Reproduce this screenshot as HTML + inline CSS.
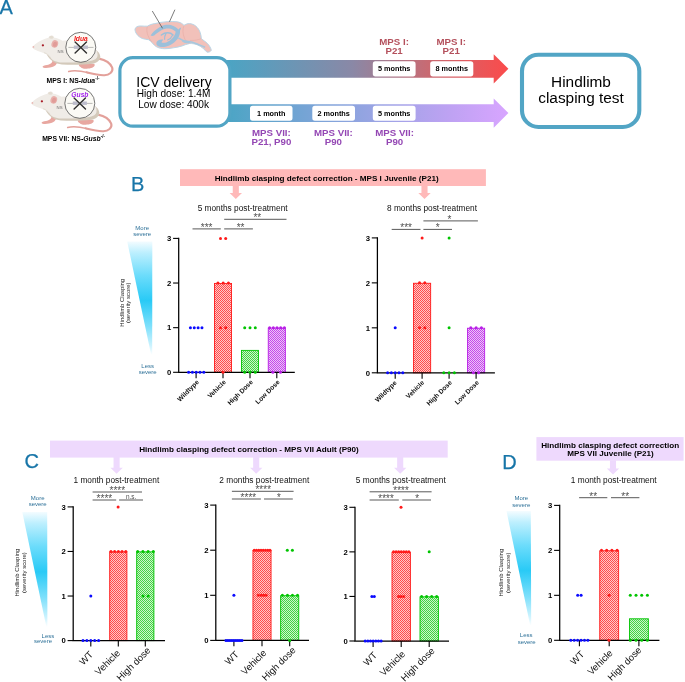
<!DOCTYPE html>
<html lang="en"><head><meta charset="utf-8"><title>Hindlimb clasping figure</title>
<style>html,body{margin:0;padding:0;background:#fff;}svg{display:block;}</style></head><body>
<svg width="685" height="682" viewBox="0 0 685 682" font-family='"Liberation Sans", Arial, Helvetica, sans-serif'>
<rect width="685" height="682" fill="#fff"/>
<defs>
<linearGradient id="gTop" x1="0" x2="1" y1="0" y2="0"><stop offset="0" stop-color="#4aa5c4"/><stop offset="0.12" stop-color="#5b9dbd"/><stop offset="0.45" stop-color="#8a88a6"/><stop offset="0.72" stop-color="#c96a72"/><stop offset="1" stop-color="#fb4b4b"/></linearGradient>
<linearGradient id="gBot" x1="0" x2="1" y1="0" y2="0"><stop offset="0" stop-color="#4aa5c4"/><stop offset="0.15" stop-color="#62a4cd"/><stop offset="0.5" stop-color="#95a4e2"/><stop offset="0.8" stop-color="#bfa2f3"/><stop offset="1" stop-color="#d8a5ff"/></linearGradient>
<linearGradient id="gSev" x1="0" x2="0" y1="0" y2="1"><stop offset="0" stop-color="#f4fcff"/><stop offset="0.1" stop-color="#bceffe"/><stop offset="0.3" stop-color="#6cdcfb"/><stop offset="0.52" stop-color="#29caf6"/><stop offset="0.75" stop-color="#7fe0fb"/><stop offset="0.92" stop-color="#cdf3fe"/><stop offset="1" stop-color="#ffffff"/></linearGradient>
<pattern id="ptr" width="2" height="2" patternUnits="userSpaceOnUse"><rect width="2" height="2" fill="#ffc8c8"/><rect width="1" height="1" fill="#ff4c4c"/><rect x="1" y="1" width="1" height="1" fill="#ff4c4c"/></pattern>
<pattern id="ptg" width="2" height="2" patternUnits="userSpaceOnUse"><rect width="2" height="2" fill="#ccf4cc"/><rect width="1" height="1" fill="#44d444"/><rect x="1" y="1" width="1" height="1" fill="#44d444"/></pattern>
<pattern id="ptp" width="2" height="2" patternUnits="userSpaceOnUse"><rect width="2" height="2" fill="#ecc4f8"/><rect width="1" height="1" fill="#c548ea"/><rect x="1" y="1" width="1" height="1" fill="#c548ea"/></pattern>
</defs>
<text x="-0.60" y="14.20" font-size="20" text-anchor="start" font-weight="normal" fill="#1775a8"  stroke="#1775a8" stroke-width="0.25">A</text>
<g transform="translate(0,0)">
<path d="M99.0 58.6 C104 59.6 110 62.5 112.2 67.6 C113.6 72 109 75 104.5 75.2 C98 75.5 92 73.7 86.5 72.3" fill="none" stroke="#e3a09a" stroke-width="2.1" stroke-linecap="round"/>
<path d="M88 72.7 C81 70.9 74.5 69.9 68.6 71.5" fill="none" stroke="#e3a09a" stroke-width="1.35" stroke-linecap="round"/>
<path d="M79 64.2 C83 63.2 91 62.8 94.6 64.2 C95.4 66.4 92.5 68.2 88 68.6 C84.5 69.2 81.5 68.4 80.6 67 C79.4 66.4 78.4 65.2 79 64.2 Z" fill="#e8a7a0"/>
<path d="M52.6 59.5 C52.8 62.5 50.5 64.4 47 65 C44.5 65.3 42.4 66 42.6 67 C43.2 68.2 47 68.2 50 67.6 C53 67.2 55.5 66 56.6 63.8 C57.4 62.4 57.2 61 56.8 60 Z" fill="#e8a7a0"/>
<path d="M47 55 C50 60 54.5 63.8 62 64.4 C72 65.2 84 64.8 92 63.8 C97.5 63 100.6 59.8 100.2 56.2 C99.6 52.2 96 49.4 93 48.2 L60 52 Z" fill="#d3c9ba"/>
<path d="M32.8 46.8 C35 43.2 41.5 40 48.4 37.8 C49.2 36 50.4 35.4 52.2 35.6 C53.6 35.8 54 36.8 53.8 37.6 C57 38 60 39.4 62.6 40.8 C72 39.2 84 39.6 91 44.6 C96 48 98.4 52.6 97.4 56.6 C96.4 60.4 90 61.6 82 62 C74 62.4 66 62.8 60 62.4 C54.6 62 51 59.4 48.4 55.6 C44.5 53 38.5 51.6 34.6 49.6 C33 48.8 32.4 47.8 32.8 46.8 Z" fill="#f0ece7"/>
<path d="M44 52.6 C47 53.6 49.4 55.4 51 58.4" fill="none" stroke="#ddd5ca" stroke-width="0.7"/>
<ellipse cx="51.3" cy="37.3" rx="2.1" ry="1.5" fill="#e4ddd2"/>
<ellipse cx="54.8" cy="43.9" rx="3.3" ry="3.9" fill="#e8b0ab" transform="rotate(18 54.8 43.9)"/>
<ellipse cx="55.1" cy="44.2" rx="2.0" ry="2.6" fill="#e19c98" transform="rotate(18 54.8 43.9)"/>
<circle cx="42.9" cy="45.3" r="1.15" fill="#a81c28"/>
<circle cx="33.4" cy="46.9" r="0.9" fill="#e9b6b1"/>
<text x="60.60" y="52.60" font-size="4.3" text-anchor="middle" font-weight="normal" fill="#6f6f6f"  >NS</text>
<circle cx="80.8" cy="47.3" r="15.0" fill="#fbfaf5" stroke="#4a4a4a" stroke-width="0.75"/>
<line x1="68.4" y1="47.4" x2="93.5" y2="47.4" stroke="#8c8c8c" stroke-width="0.6"/>
<rect x="73.8" y="45.5" width="4.9" height="3.4" fill="#bcbccb"/>
<rect x="83.2" y="45.5" width="4.7" height="3.4" fill="#bcbccb"/>
<path d="M75.1 42.1 L86.5 53.0 M86.5 42.1 L75.1 53.0" stroke="#2e2e2e" stroke-width="1.4" stroke-linecap="round" fill="none"/>
<text x="80.90" y="41.10" font-size="6.7" text-anchor="middle" font-weight="bold" fill="#f01616" font-style="italic" >Idua</text>
</g>
<g transform="translate(-1.0,56)">
<path d="M99.0 58.6 C104 59.6 110 62.5 112.2 67.6 C113.6 72 109 75 104.5 75.2 C98 75.5 92 73.7 86.5 72.3" fill="none" stroke="#e3a09a" stroke-width="2.1" stroke-linecap="round"/>
<path d="M88 72.7 C81 70.9 74.5 69.9 68.6 71.5" fill="none" stroke="#e3a09a" stroke-width="1.35" stroke-linecap="round"/>
<path d="M79 64.2 C83 63.2 91 62.8 94.6 64.2 C95.4 66.4 92.5 68.2 88 68.6 C84.5 69.2 81.5 68.4 80.6 67 C79.4 66.4 78.4 65.2 79 64.2 Z" fill="#e8a7a0"/>
<path d="M52.6 59.5 C52.8 62.5 50.5 64.4 47 65 C44.5 65.3 42.4 66 42.6 67 C43.2 68.2 47 68.2 50 67.6 C53 67.2 55.5 66 56.6 63.8 C57.4 62.4 57.2 61 56.8 60 Z" fill="#e8a7a0"/>
<path d="M47 55 C50 60 54.5 63.8 62 64.4 C72 65.2 84 64.8 92 63.8 C97.5 63 100.6 59.8 100.2 56.2 C99.6 52.2 96 49.4 93 48.2 L60 52 Z" fill="#d3c9ba"/>
<path d="M32.8 46.8 C35 43.2 41.5 40 48.4 37.8 C49.2 36 50.4 35.4 52.2 35.6 C53.6 35.8 54 36.8 53.8 37.6 C57 38 60 39.4 62.6 40.8 C72 39.2 84 39.6 91 44.6 C96 48 98.4 52.6 97.4 56.6 C96.4 60.4 90 61.6 82 62 C74 62.4 66 62.8 60 62.4 C54.6 62 51 59.4 48.4 55.6 C44.5 53 38.5 51.6 34.6 49.6 C33 48.8 32.4 47.8 32.8 46.8 Z" fill="#f0ece7"/>
<path d="M44 52.6 C47 53.6 49.4 55.4 51 58.4" fill="none" stroke="#ddd5ca" stroke-width="0.7"/>
<ellipse cx="51.3" cy="37.3" rx="2.1" ry="1.5" fill="#e4ddd2"/>
<ellipse cx="54.8" cy="43.9" rx="3.3" ry="3.9" fill="#e8b0ab" transform="rotate(18 54.8 43.9)"/>
<ellipse cx="55.1" cy="44.2" rx="2.0" ry="2.6" fill="#e19c98" transform="rotate(18 54.8 43.9)"/>
<circle cx="42.9" cy="45.3" r="1.15" fill="#a81c28"/>
<circle cx="33.4" cy="46.9" r="0.9" fill="#e9b6b1"/>
<text x="60.60" y="52.60" font-size="4.3" text-anchor="middle" font-weight="normal" fill="#6f6f6f"  >NS</text>
<circle cx="80.8" cy="47.3" r="15.0" fill="#fbfaf5" stroke="#4a4a4a" stroke-width="0.75"/>
<line x1="68.4" y1="47.4" x2="93.5" y2="47.4" stroke="#8c8c8c" stroke-width="0.6"/>
<rect x="73.8" y="45.5" width="4.9" height="3.4" fill="#bcbccb"/>
<rect x="83.2" y="45.5" width="4.7" height="3.4" fill="#bcbccb"/>
<path d="M75.1 42.1 L86.5 53.0 M86.5 42.1 L75.1 53.0" stroke="#2e2e2e" stroke-width="1.4" stroke-linecap="round" fill="none"/>
<text x="80.90" y="41.10" font-size="6.7" text-anchor="middle" font-weight="bold" fill="#a424ee" font-style="italic" >Gusb</text>
</g>
<text x="73.0" y="83.2" font-size="6.85" text-anchor="middle" font-weight="bold">MPS I: NS-<tspan font-style="italic">Idua</tspan><tspan font-size="4.6" dy="-2.9">-/-</tspan></text>
<text x="73.6" y="140.6" font-size="6.85" text-anchor="middle" font-weight="bold">MPS VII: NS-<tspan font-style="italic">Gusb</tspan><tspan font-size="4.6" dy="-2.9">-/-</tspan></text>
<g>
<path d="M135 29.2 C135.4 27 138 25.8 141.2 26 C143.4 26 145.6 26.4 147.4 26.2 C149.6 24.8 152 24 154.8 23.6 C158.8 22.6 163 22 167.2 21.7 C170.6 21.4 174 21.4 177.1 21.8 C179.4 22.2 181.2 23 182.2 23.8 C183 24.4 183.6 25 184 25.4 C185.6 24.2 187.6 23.6 189.6 23.6 C192 23.8 194.2 24.8 195.8 26.1 C198 28 199.4 30.2 200.1 32.3 C200.9 34.4 201.2 36.6 201.3 38.5 C202.2 39.5 203.4 40.2 204.4 41 C206.4 42.4 208.2 44 209.4 45.9 C210.4 47.4 211 48.8 211.3 50.3 C210.4 51.8 208.6 52.4 206.9 52.1 C205.6 50.8 204.4 49.4 203.2 48.4 C201.4 46.8 199.2 45.6 197 44.7 C194.6 43.8 192 43.4 189.6 43.5 C187 44 184.4 45 182.1 45.9 C179.4 46.8 176.4 47.4 173.4 47.8 C170.6 48.4 167.6 48.8 164.7 48.7 C162 48.6 159.4 48.2 157.3 47.2 C155.2 46.2 153.4 44.6 152.3 42.8 C151 41.4 149.8 40.4 148.6 39.7 C146.6 39.4 144.4 39.2 142.4 38.5 C140.2 37.6 138.2 36.2 136.8 34.2 C135.6 32.6 135 30.8 135 29.2 Z" fill="#f2c1ba" stroke="#b9d6e7" stroke-width="1.0" stroke-linejoin="round"/>
<path d="M147.4 26.4 C146 30 147 36 152 42.4" fill="none" stroke="#e5a8a2" stroke-width="0.55"/>
<path d="M184 25.6 C182.4 29 182.6 34 184.6 38.6 C185.8 41 187.6 42.8 189.6 43.4" fill="none" stroke="#e5a8a2" stroke-width="0.55"/>
<path d="M201.2 38.6 C198 40 194 40.6 190 40.4" fill="none" stroke="#e5a8a2" stroke-width="0.5"/>
<path d="M150.6 35.6 C152.4 32.8 154.6 30.6 157 29 C159.4 27.2 161.6 25.8 164 25.2 C166.4 24.6 169 24.6 171.4 25.2 C174.2 26 176.8 27.6 178.6 29.4 C179.4 28.4 180.2 27.8 181.2 27.6 C180.8 28.8 180.4 29.8 180 30.8 C180.2 33 179.6 35.2 178.4 37.4 C177 39.8 175 41.8 172.8 43.4 C170.2 45.2 167.2 46.6 164 47 C161.4 47.4 158.8 46.8 157.2 45.4 C155.8 43.8 156.2 41.6 158 40.4 C159.6 39.4 161.6 39.2 163.2 39.6 C162.6 40.6 162 41.4 161.4 42.2 C162.6 43 164.4 43 166.2 42.4 C168.8 41.6 171.2 39.8 173 37.6 C174.6 35.6 175.6 33.4 175.6 31.6 C173.8 30 171.4 28.8 169 28.6 C166.4 28.4 163.8 29 161.4 30.2 C158.8 31.6 156.4 33.6 154.2 35.4 C153 36 151.6 36 150.6 35.6 Z" fill="#9cc0da"/>
<path d="M161.4 35 C163.2 33.6 165.4 32.8 167.6 32.8 C169.8 32.8 171.8 33.6 173 35" fill="none" stroke="#9cc0da" stroke-width="1.5" stroke-linecap="round"/>
<path d="M166 33.4 C165 35.2 164.4 37.2 164.6 39.2" fill="none" stroke="#9cc0da" stroke-width="1.2" stroke-linecap="round"/>
<path d="M172.4 35.4 C171.6 37.6 169.8 39.2 167.6 40" fill="none" stroke="#9cc0da" stroke-width="1.2" stroke-linecap="round"/>
<path d="M178.6 38.2 C181.6 40.4 185 41.2 188.3 41.6 C191 42 193.6 42.6 195.8 43.5 C199 44.8 202 45.8 204.6 47" fill="none" stroke="#a6c7de" stroke-width="1.5" stroke-linecap="round"/>
<path d="M183 41 C185 42.4 187.6 42.6 189.6 41.9" fill="none" stroke="#a6c7de" stroke-width="2.0" stroke-linecap="round"/>
<line x1="152.3" y1="11" x2="162.5" y2="28.3" stroke="#4f4f4f" stroke-width="0.75"/>
<line x1="174.9" y1="9.7" x2="169.5" y2="21.7" stroke="#4f4f4f" stroke-width="0.75"/>
</g>
<path d="M225 60 H493.7 V54.2 L508.4 68.8 L493.7 83.4 V77.7 H225 Z" fill="url(#gTop)"/>
<path d="M225 104.2 H493.7 V98.5 L508.4 113.1 L493.7 127.7 V122 H225 Z" fill="url(#gBot)"/>
<rect x="119.9" y="57.7" width="110.0" height="68.4" rx="13" fill="#fff" stroke="#52a5c5" stroke-width="3.2"/>
<text x="174.00" y="86.90" font-size="14" text-anchor="middle" font-weight="normal" fill="#000"  >ICV delivery</text>
<text x="173.60" y="97.00" font-size="10.1" text-anchor="middle" font-weight="normal" fill="#000"  >High dose: 1.4M</text>
<text x="173.60" y="107.70" font-size="10.1" text-anchor="middle" font-weight="normal" fill="#000"  >Low dose: 400k</text>
<rect x="522" y="54.8" width="117.3" height="72.2" rx="16.5" fill="#fff" stroke="#52a5c5" stroke-width="4.1"/>
<text x="581.00" y="86.80" font-size="15.4" text-anchor="middle" font-weight="normal" fill="#000"  >Hindlimb</text>
<text x="581.00" y="103.10" font-size="15.4" text-anchor="middle" font-weight="normal" fill="#000"  >clasping test</text>
<rect x="372.8" y="61.3" width="42.80" height="15.10" rx="2.6" fill="#fff"/>
<text x="394.20" y="71.40" font-size="7.3" text-anchor="middle" font-weight="bold" fill="#000"  >5 months</text>
<rect x="430.2" y="61.3" width="43.10" height="15.10" rx="2.6" fill="#fff"/>
<text x="451.75" y="71.40" font-size="7.3" text-anchor="middle" font-weight="bold" fill="#000"  >8 months</text>
<rect x="250.0" y="105.8" width="42.50" height="14.90" rx="2.6" fill="#fff"/>
<text x="271.25" y="115.80" font-size="7.3" text-anchor="middle" font-weight="bold" fill="#000"  >1 month</text>
<rect x="312.3" y="105.8" width="42.70" height="14.90" rx="2.6" fill="#fff"/>
<text x="333.65" y="115.80" font-size="7.3" text-anchor="middle" font-weight="bold" fill="#000"  >2 months</text>
<rect x="372.8" y="105.8" width="42.80" height="14.90" rx="2.6" fill="#fff"/>
<text x="394.20" y="115.80" font-size="7.3" text-anchor="middle" font-weight="bold" fill="#000"  >5 months</text>
<text x="394.10" y="44.90" font-size="9.7" text-anchor="middle" font-weight="bold" fill="#b4505c"  >MPS I:</text>
<text x="394.10" y="54.20" font-size="9.7" text-anchor="middle" font-weight="bold" fill="#b4505c"  >P21</text>
<text x="451.20" y="44.90" font-size="9.7" text-anchor="middle" font-weight="bold" fill="#b4505c"  >MPS I:</text>
<text x="451.20" y="54.20" font-size="9.7" text-anchor="middle" font-weight="bold" fill="#b4505c"  >P21</text>
<text x="271.40" y="135.90" font-size="9.7" text-anchor="middle" font-weight="bold" fill="#9447b4"  >MPS VII:</text>
<text x="271.40" y="145.20" font-size="9.7" text-anchor="middle" font-weight="bold" fill="#9447b4"  >P21, P90</text>
<text x="333.40" y="135.90" font-size="9.7" text-anchor="middle" font-weight="bold" fill="#9447b4"  >MPS VII:</text>
<text x="333.40" y="145.20" font-size="9.7" text-anchor="middle" font-weight="bold" fill="#9447b4"  >P90</text>
<text x="394.60" y="135.90" font-size="9.7" text-anchor="middle" font-weight="bold" fill="#9447b4"  >MPS VII:</text>
<text x="394.60" y="145.20" font-size="9.7" text-anchor="middle" font-weight="bold" fill="#9447b4"  >P90</text>
<text x="131.00" y="190.90" font-size="20" text-anchor="start" font-weight="normal" fill="#1775a8"  stroke="#1775a8" stroke-width="0.25">B</text>
<rect x="180.0" y="169.2" width="305.90" height="16.80" fill="#ffb9b9"/>
<path d="M232.75 185.5 V193.00 H229.60 L235.80 199.0 L242.00 193.00 H238.85 V185.5 Z" fill="#ffb9b9"/>
<path d="M421.45 185.5 V193.00 H418.30 L424.50 199.0 L430.70 193.00 H427.55 V185.5 Z" fill="#ffb9b9"/>
<text x="326.70" y="180.70" font-size="8.12" text-anchor="middle" font-weight="bold" fill="#000"  >Hindlimb clasping defect correction - MPS I Juvenile (P21)</text>
<path d="M127.2 241.4 H152.3 L152.2 355.0 L151.2 355.0 Z" fill="url(#gSev)"/>
<text x="142.20" y="230.30" font-size="6.0" text-anchor="middle" font-weight="normal" fill="#2f7299"  >More</text>
<text x="142.20" y="236.10" font-size="6.0" text-anchor="middle" font-weight="normal" fill="#2f7299"  >severe</text>
<text x="147.70" y="368.00" font-size="6.0" text-anchor="middle" font-weight="normal" fill="#2f7299"  >Less</text>
<text x="147.70" y="373.90" font-size="6.0" text-anchor="middle" font-weight="normal" fill="#2f7299"  >severe</text>
<text transform="translate(123.80,302.8) rotate(-90)" font-size="5.95" text-anchor="middle" fill="#222">Hindlimb Clasping</text>
<text transform="translate(129.80,302.8) rotate(-90)" font-size="5.95" text-anchor="middle" fill="#222">(severity score)</text>
<rect x="214.45" y="283.43" width="17.10" height="88.87" fill="url(#ptr)" stroke="#ff1a1a" stroke-width="0.9"/>
<rect x="241.45" y="350.38" width="17.10" height="21.92" fill="url(#ptg)" stroke="#00c400" stroke-width="0.9"/>
<rect x="268.25" y="328.07" width="17.10" height="44.23" fill="url(#ptp)" stroke="#b81ee6" stroke-width="0.9"/>
<path d="M178.70 237.80 V372.30 H294.80" fill="none" stroke="#000" stroke-width="1.25" stroke-linejoin="miter"/>
<line x1="173.10" y1="372.30" x2="178.70" y2="372.30" stroke="#000" stroke-width="1.1"/>
<text x="171.40" y="375.05" font-size="7.7" text-anchor="end" font-weight="bold" fill="#000"  >0</text>
<line x1="173.10" y1="327.67" x2="178.70" y2="327.67" stroke="#000" stroke-width="1.1"/>
<text x="171.40" y="330.42" font-size="7.7" text-anchor="end" font-weight="bold" fill="#000"  >1</text>
<line x1="173.10" y1="283.03" x2="178.70" y2="283.03" stroke="#000" stroke-width="1.1"/>
<text x="171.40" y="285.78" font-size="7.7" text-anchor="end" font-weight="bold" fill="#000"  >2</text>
<line x1="173.10" y1="238.40" x2="178.70" y2="238.40" stroke="#000" stroke-width="1.1"/>
<text x="171.40" y="241.15" font-size="7.7" text-anchor="end" font-weight="bold" fill="#000"  >3</text>
<line x1="196.10" y1="372.30" x2="196.10" y2="378.20" stroke="#000" stroke-width="1.1"/>
<text transform="translate(199.40,382.50) rotate(-45)" font-size="6.6" font-weight="bold" text-anchor="end" fill="#111">Wildtype</text>
<line x1="223.00" y1="372.30" x2="223.00" y2="378.20" stroke="#000" stroke-width="1.1"/>
<text transform="translate(226.30,382.50) rotate(-45)" font-size="6.6" font-weight="bold" text-anchor="end" fill="#111">Vehicle</text>
<line x1="250.00" y1="372.30" x2="250.00" y2="378.20" stroke="#000" stroke-width="1.1"/>
<text transform="translate(253.30,382.50) rotate(-45)" font-size="6.6" font-weight="bold" text-anchor="end" fill="#111">High Dose</text>
<line x1="276.80" y1="372.30" x2="276.80" y2="378.20" stroke="#000" stroke-width="1.1"/>
<text transform="translate(280.10,382.50) rotate(-45)" font-size="6.6" font-weight="bold" text-anchor="end" fill="#111">Low Dose</text>
<circle cx="190.42" cy="327.67" r="1.5" fill="#0a0aff"/>
<circle cx="194.27" cy="327.67" r="1.5" fill="#0a0aff"/>
<circle cx="198.12" cy="327.67" r="1.5" fill="#0a0aff"/>
<circle cx="201.97" cy="327.67" r="1.5" fill="#0a0aff"/>
<circle cx="188.60" cy="372.30" r="1.5" fill="#0a0aff"/>
<circle cx="192.40" cy="372.30" r="1.5" fill="#0a0aff"/>
<circle cx="196.20" cy="372.30" r="1.5" fill="#0a0aff"/>
<circle cx="200.00" cy="372.30" r="1.5" fill="#0a0aff"/>
<circle cx="203.80" cy="372.30" r="1.5" fill="#0a0aff"/>
<circle cx="220.50" cy="238.40" r="1.5" fill="#ff1a1a"/>
<circle cx="225.70" cy="238.40" r="1.5" fill="#ff1a1a"/>
<circle cx="217.95" cy="283.03" r="1.5" fill="#ff1a1a"/>
<circle cx="223.20" cy="283.03" r="1.5" fill="#ff1a1a"/>
<circle cx="228.45" cy="283.03" r="1.5" fill="#ff1a1a"/>
<circle cx="220.50" cy="327.67" r="1.5" fill="#ff1a1a"/>
<circle cx="225.70" cy="327.67" r="1.5" fill="#ff1a1a"/>
<circle cx="223.00" cy="372.30" r="1.5" fill="#ff1a1a"/>
<circle cx="244.70" cy="327.67" r="1.5" fill="#00c400"/>
<circle cx="250.00" cy="327.67" r="1.5" fill="#00c400"/>
<circle cx="255.30" cy="327.67" r="1.5" fill="#00c400"/>
<circle cx="244.70" cy="372.30" r="1.5" fill="#00c400"/>
<circle cx="250.00" cy="372.30" r="1.5" fill="#00c400"/>
<circle cx="255.30" cy="372.30" r="1.5" fill="#00c400"/>
<circle cx="269.60" cy="327.67" r="1.5" fill="#b81ee6"/>
<circle cx="273.30" cy="327.67" r="1.5" fill="#b81ee6"/>
<circle cx="277.00" cy="327.67" r="1.5" fill="#b81ee6"/>
<circle cx="280.70" cy="327.67" r="1.5" fill="#b81ee6"/>
<circle cx="284.40" cy="327.67" r="1.5" fill="#b81ee6"/>
<circle cx="272.90" cy="372.30" r="1.5" fill="#b81ee6"/>
<circle cx="280.50" cy="372.30" r="1.5" fill="#b81ee6"/>
<text x="242.60" y="210.60" font-size="8.3" text-anchor="middle" font-weight="normal" fill="#111"  >5 months post-treatment</text>
<line x1="192.50" y1="228.90" x2="220.80" y2="228.90" stroke="#505050" stroke-width="0.95"/>
<text x="206.65" y="230.80" font-size="10.0" text-anchor="middle" font-weight="normal" fill="#505050"  >***</text>
<line x1="224.20" y1="228.90" x2="252.90" y2="228.90" stroke="#505050" stroke-width="0.95"/>
<text x="240.55" y="230.80" font-size="10.0" text-anchor="middle" font-weight="normal" fill="#505050"  >**</text>
<line x1="224.20" y1="219.30" x2="286.50" y2="219.30" stroke="#505050" stroke-width="0.95"/>
<text x="257.35" y="221.20" font-size="10.0" text-anchor="middle" font-weight="normal" fill="#505050"  >**</text>
<rect x="413.55" y="283.27" width="17.10" height="89.53" fill="url(#ptr)" stroke="#ff1a1a" stroke-width="0.9"/>
<rect x="467.55" y="328.23" width="17.10" height="44.57" fill="url(#ptp)" stroke="#b81ee6" stroke-width="0.9"/>
<path d="M377.40 237.30 V372.80 H494.90" fill="none" stroke="#000" stroke-width="1.25" stroke-linejoin="miter"/>
<line x1="371.80" y1="372.80" x2="377.40" y2="372.80" stroke="#000" stroke-width="1.1"/>
<text x="370.10" y="375.55" font-size="7.7" text-anchor="end" font-weight="bold" fill="#000"  >0</text>
<line x1="371.80" y1="327.83" x2="377.40" y2="327.83" stroke="#000" stroke-width="1.1"/>
<text x="370.10" y="330.58" font-size="7.7" text-anchor="end" font-weight="bold" fill="#000"  >1</text>
<line x1="371.80" y1="282.87" x2="377.40" y2="282.87" stroke="#000" stroke-width="1.1"/>
<text x="370.10" y="285.62" font-size="7.7" text-anchor="end" font-weight="bold" fill="#000"  >2</text>
<line x1="371.80" y1="237.90" x2="377.40" y2="237.90" stroke="#000" stroke-width="1.1"/>
<text x="370.10" y="240.65" font-size="7.7" text-anchor="end" font-weight="bold" fill="#000"  >3</text>
<line x1="395.20" y1="372.80" x2="395.20" y2="378.70" stroke="#000" stroke-width="1.1"/>
<text transform="translate(397.10,383.20) rotate(-45)" font-size="6.6" font-weight="bold" text-anchor="end" fill="#111">Wildtype</text>
<line x1="422.10" y1="372.80" x2="422.10" y2="378.70" stroke="#000" stroke-width="1.1"/>
<text transform="translate(424.60,383.00) rotate(-45)" font-size="6.6" font-weight="bold" text-anchor="end" fill="#111">Vehicle</text>
<line x1="449.10" y1="372.80" x2="449.10" y2="378.70" stroke="#000" stroke-width="1.1"/>
<text transform="translate(452.40,383.00) rotate(-45)" font-size="6.6" font-weight="bold" text-anchor="end" fill="#111">High Dose</text>
<line x1="476.10" y1="372.80" x2="476.10" y2="378.70" stroke="#000" stroke-width="1.1"/>
<text transform="translate(479.40,383.00) rotate(-45)" font-size="6.6" font-weight="bold" text-anchor="end" fill="#111">Low Dose</text>
<circle cx="395.20" cy="327.83" r="1.5" fill="#0a0aff"/>
<circle cx="387.60" cy="372.80" r="1.5" fill="#0a0aff"/>
<circle cx="391.40" cy="372.80" r="1.5" fill="#0a0aff"/>
<circle cx="395.20" cy="372.80" r="1.5" fill="#0a0aff"/>
<circle cx="399.00" cy="372.80" r="1.5" fill="#0a0aff"/>
<circle cx="402.80" cy="372.80" r="1.5" fill="#0a0aff"/>
<circle cx="422.10" cy="237.90" r="1.5" fill="#ff1a1a"/>
<circle cx="419.50" cy="282.87" r="1.5" fill="#ff1a1a"/>
<circle cx="424.80" cy="282.87" r="1.5" fill="#ff1a1a"/>
<circle cx="419.50" cy="327.83" r="1.5" fill="#ff1a1a"/>
<circle cx="424.80" cy="327.83" r="1.5" fill="#ff1a1a"/>
<circle cx="449.10" cy="237.90" r="1.5" fill="#00c400"/>
<circle cx="449.10" cy="327.83" r="1.5" fill="#00c400"/>
<circle cx="443.80" cy="372.80" r="1.5" fill="#00c400"/>
<circle cx="449.10" cy="372.80" r="1.5" fill="#00c400"/>
<circle cx="454.40" cy="372.80" r="1.5" fill="#00c400"/>
<circle cx="470.80" cy="327.83" r="1.5" fill="#b81ee6"/>
<circle cx="476.10" cy="327.83" r="1.5" fill="#b81ee6"/>
<circle cx="481.40" cy="327.83" r="1.5" fill="#b81ee6"/>
<circle cx="473.40" cy="372.80" r="1.5" fill="#b81ee6"/>
<circle cx="478.70" cy="372.80" r="1.5" fill="#b81ee6"/>
<text x="432.00" y="210.70" font-size="8.3" text-anchor="middle" font-weight="normal" fill="#111"  >8 months post-treatment</text>
<line x1="391.70" y1="229.40" x2="420.50" y2="229.40" stroke="#505050" stroke-width="0.95"/>
<text x="406.10" y="231.30" font-size="10.0" text-anchor="middle" font-weight="normal" fill="#505050"  >***</text>
<line x1="423.40" y1="229.40" x2="452.00" y2="229.40" stroke="#505050" stroke-width="0.95"/>
<text x="437.70" y="231.30" font-size="10.0" text-anchor="middle" font-weight="normal" fill="#505050"  >*</text>
<line x1="423.40" y1="220.90" x2="477.90" y2="220.90" stroke="#505050" stroke-width="0.95"/>
<text x="449.35" y="222.80" font-size="10.0" text-anchor="middle" font-weight="normal" fill="#505050"  >*</text>
<text x="24.40" y="468.20" font-size="20" text-anchor="start" font-weight="normal" fill="#1775a8"  stroke="#1775a8" stroke-width="0.25">C</text>
<rect x="50.0" y="440.6" width="397.70" height="17.00" fill="#eed9fd"/>
<path d="M113.55 457.1 V467.80 H110.40 L116.60 473.8 L122.80 467.80 H119.65 V457.1 Z" fill="#eed9fd"/>
<path d="M253.15 457.1 V467.80 H250.00 L256.20 473.8 L262.40 467.80 H259.25 V457.1 Z" fill="#eed9fd"/>
<path d="M397.15 457.1 V467.80 H394.00 L400.20 473.8 L406.40 467.80 H403.25 V457.1 Z" fill="#eed9fd"/>
<text x="249.00" y="451.60" font-size="8.12" text-anchor="middle" font-weight="bold" fill="#000"  >Hindlimb clasping defect correction - MPS VII Adult (P90)</text>
<path d="M22.3 511.9 H47.2 L47.4 627.0 L46.4 627.0 Z" fill="url(#gSev)"/>
<text x="37.70" y="500.20" font-size="6.0" text-anchor="middle" font-weight="normal" fill="#2f7299"  >More</text>
<text x="37.70" y="506.20" font-size="6.0" text-anchor="middle" font-weight="normal" fill="#2f7299"  >severe</text>
<text x="47.90" y="637.50" font-size="6.0" text-anchor="middle" font-weight="normal" fill="#2f7299"  >Less</text>
<text x="43.00" y="643.30" font-size="6.0" text-anchor="middle" font-weight="normal" fill="#2f7299"  >severe</text>
<text transform="translate(19.40,572.6) rotate(-90)" font-size="5.95" text-anchor="middle" fill="#222">Hindlimb Clasping</text>
<text transform="translate(26.00,572.6) rotate(-90)" font-size="5.95" text-anchor="middle" fill="#222">(severity score)</text>
<rect x="109.70" y="551.87" width="17.20" height="88.73" fill="url(#ptr)" stroke="#ff1a1a" stroke-width="0.9"/>
<rect x="136.70" y="551.87" width="17.20" height="88.73" fill="url(#ptg)" stroke="#00c400" stroke-width="0.9"/>
<path d="M73.20 506.30 V640.60 H165.00" fill="none" stroke="#000" stroke-width="1.25" stroke-linejoin="miter"/>
<line x1="67.60" y1="640.60" x2="73.20" y2="640.60" stroke="#000" stroke-width="1.1"/>
<text x="65.90" y="643.35" font-size="7.7" text-anchor="end" font-weight="bold" fill="#000"  >0</text>
<line x1="67.60" y1="596.03" x2="73.20" y2="596.03" stroke="#000" stroke-width="1.1"/>
<text x="65.90" y="598.78" font-size="7.7" text-anchor="end" font-weight="bold" fill="#000"  >1</text>
<line x1="67.60" y1="551.47" x2="73.20" y2="551.47" stroke="#000" stroke-width="1.1"/>
<text x="65.90" y="554.22" font-size="7.7" text-anchor="end" font-weight="bold" fill="#000"  >2</text>
<line x1="67.60" y1="506.90" x2="73.20" y2="506.90" stroke="#000" stroke-width="1.1"/>
<text x="65.90" y="509.65" font-size="7.7" text-anchor="end" font-weight="bold" fill="#000"  >3</text>
<line x1="90.80" y1="640.60" x2="90.80" y2="646.50" stroke="#000" stroke-width="1.1"/>
<text transform="translate(93.70,655.20) rotate(-45)" font-size="9.6" text-anchor="end" fill="#111">WT</text>
<line x1="118.30" y1="640.60" x2="118.30" y2="646.50" stroke="#000" stroke-width="1.1"/>
<text transform="translate(120.70,653.80) rotate(-45)" font-size="9.6" text-anchor="end" fill="#111">Vehicle</text>
<line x1="145.30" y1="640.60" x2="145.30" y2="646.50" stroke="#000" stroke-width="1.1"/>
<text transform="translate(151.10,651.00) rotate(-45)" font-size="9.6" text-anchor="end" fill="#111">High dose</text>
<circle cx="90.80" cy="596.03" r="1.5" fill="#0a0aff"/>
<circle cx="83.00" cy="640.60" r="1.5" fill="#0a0aff"/>
<circle cx="86.90" cy="640.60" r="1.5" fill="#0a0aff"/>
<circle cx="90.80" cy="640.60" r="1.5" fill="#0a0aff"/>
<circle cx="94.70" cy="640.60" r="1.5" fill="#0a0aff"/>
<circle cx="98.60" cy="640.60" r="1.5" fill="#0a0aff"/>
<circle cx="118.10" cy="506.90" r="1.5" fill="#ff1a1a"/>
<circle cx="110.91" cy="551.47" r="1.5" fill="#ff1a1a"/>
<circle cx="114.63" cy="551.47" r="1.5" fill="#ff1a1a"/>
<circle cx="118.35" cy="551.47" r="1.5" fill="#ff1a1a"/>
<circle cx="122.07" cy="551.47" r="1.5" fill="#ff1a1a"/>
<circle cx="125.79" cy="551.47" r="1.5" fill="#ff1a1a"/>
<circle cx="137.66" cy="551.47" r="1.5" fill="#00c400"/>
<circle cx="142.88" cy="551.47" r="1.5" fill="#00c400"/>
<circle cx="148.12" cy="551.47" r="1.5" fill="#00c400"/>
<circle cx="153.34" cy="551.47" r="1.5" fill="#00c400"/>
<circle cx="143.00" cy="596.03" r="1.5" fill="#00c400"/>
<circle cx="148.20" cy="596.03" r="1.5" fill="#00c400"/>
<text x="116.40" y="483.20" font-size="8.3" text-anchor="middle" font-weight="normal" fill="#111"  >1 month post-treatment</text>
<line x1="92.60" y1="492.00" x2="142.00" y2="492.00" stroke="#505050" stroke-width="0.95"/>
<text x="117.30" y="493.90" font-size="10.0" text-anchor="middle" font-weight="normal" fill="#505050"  >****</text>
<line x1="92.60" y1="500.00" x2="116.20" y2="500.00" stroke="#505050" stroke-width="0.95"/>
<text x="104.40" y="501.90" font-size="10.0" text-anchor="middle" font-weight="normal" fill="#505050"  >****</text>
<line x1="119.10" y1="500.00" x2="143.00" y2="500.00" stroke="#505050" stroke-width="0.95"/>
<text x="131.05" y="498.50" font-size="6.4" text-anchor="middle" font-weight="normal" fill="#505050"  >n.s.</text>
<rect x="252.95" y="550.60" width="18.10" height="89.80" fill="url(#ptr)" stroke="#ff1a1a" stroke-width="0.9"/>
<rect x="280.65" y="595.70" width="18.10" height="44.70" fill="url(#ptg)" stroke="#00c400" stroke-width="0.9"/>
<path d="M215.80 504.50 V640.40 H309.00" fill="none" stroke="#000" stroke-width="1.25" stroke-linejoin="miter"/>
<line x1="210.20" y1="640.40" x2="215.80" y2="640.40" stroke="#000" stroke-width="1.1"/>
<text x="208.50" y="643.15" font-size="7.7" text-anchor="end" font-weight="bold" fill="#000"  >0</text>
<line x1="210.20" y1="595.30" x2="215.80" y2="595.30" stroke="#000" stroke-width="1.1"/>
<text x="208.50" y="598.05" font-size="7.7" text-anchor="end" font-weight="bold" fill="#000"  >1</text>
<line x1="210.20" y1="550.20" x2="215.80" y2="550.20" stroke="#000" stroke-width="1.1"/>
<text x="208.50" y="552.95" font-size="7.7" text-anchor="end" font-weight="bold" fill="#000"  >2</text>
<line x1="210.20" y1="505.10" x2="215.80" y2="505.10" stroke="#000" stroke-width="1.1"/>
<text x="208.50" y="507.85" font-size="7.7" text-anchor="end" font-weight="bold" fill="#000"  >3</text>
<line x1="233.90" y1="640.40" x2="233.90" y2="646.30" stroke="#000" stroke-width="1.1"/>
<text transform="translate(239.40,655.00) rotate(-45)" font-size="9.6" text-anchor="end" fill="#111">WT</text>
<line x1="262.00" y1="640.40" x2="262.00" y2="646.30" stroke="#000" stroke-width="1.1"/>
<text transform="translate(267.00,653.60) rotate(-45)" font-size="9.6" text-anchor="end" fill="#111">Vehicle</text>
<line x1="289.70" y1="640.40" x2="289.70" y2="646.30" stroke="#000" stroke-width="1.1"/>
<text transform="translate(296.30,650.80) rotate(-45)" font-size="9.6" text-anchor="end" fill="#111">High dose</text>
<circle cx="233.90" cy="595.30" r="1.5" fill="#0a0aff"/>
<circle cx="225.95" cy="640.40" r="1.5" fill="#0a0aff"/>
<circle cx="227.95" cy="640.40" r="1.5" fill="#0a0aff"/>
<circle cx="229.95" cy="640.40" r="1.5" fill="#0a0aff"/>
<circle cx="231.95" cy="640.40" r="1.5" fill="#0a0aff"/>
<circle cx="233.95" cy="640.40" r="1.5" fill="#0a0aff"/>
<circle cx="235.95" cy="640.40" r="1.5" fill="#0a0aff"/>
<circle cx="237.95" cy="640.40" r="1.5" fill="#0a0aff"/>
<circle cx="239.95" cy="640.40" r="1.5" fill="#0a0aff"/>
<circle cx="241.95" cy="640.40" r="1.5" fill="#0a0aff"/>
<circle cx="254.23" cy="550.20" r="1.5" fill="#ff1a1a"/>
<circle cx="256.48" cy="550.20" r="1.5" fill="#ff1a1a"/>
<circle cx="258.73" cy="550.20" r="1.5" fill="#ff1a1a"/>
<circle cx="260.98" cy="550.20" r="1.5" fill="#ff1a1a"/>
<circle cx="263.23" cy="550.20" r="1.5" fill="#ff1a1a"/>
<circle cx="265.48" cy="550.20" r="1.5" fill="#ff1a1a"/>
<circle cx="267.73" cy="550.20" r="1.5" fill="#ff1a1a"/>
<circle cx="269.98" cy="550.20" r="1.5" fill="#ff1a1a"/>
<circle cx="258.40" cy="595.30" r="1.5" fill="#ff1a1a"/>
<circle cx="261.00" cy="595.30" r="1.5" fill="#ff1a1a"/>
<circle cx="263.60" cy="595.30" r="1.5" fill="#ff1a1a"/>
<circle cx="266.20" cy="595.30" r="1.5" fill="#ff1a1a"/>
<circle cx="287.30" cy="550.20" r="1.5" fill="#00c400"/>
<circle cx="292.40" cy="550.20" r="1.5" fill="#00c400"/>
<circle cx="282.40" cy="595.30" r="1.5" fill="#00c400"/>
<circle cx="287.44" cy="595.30" r="1.5" fill="#00c400"/>
<circle cx="292.46" cy="595.30" r="1.5" fill="#00c400"/>
<circle cx="297.50" cy="595.30" r="1.5" fill="#00c400"/>
<circle cx="289.70" cy="640.40" r="1.5" fill="#00c400"/>
<text x="264.30" y="482.90" font-size="8.3" text-anchor="middle" font-weight="normal" fill="#111"  >2 months post-treatment</text>
<line x1="231.90" y1="491.30" x2="293.60" y2="491.30" stroke="#505050" stroke-width="0.95"/>
<text x="262.75" y="493.20" font-size="10.0" text-anchor="middle" font-weight="normal" fill="#505050" font-style="italic" >****</text>
<line x1="231.90" y1="499.00" x2="260.90" y2="499.00" stroke="#505050" stroke-width="0.95"/>
<text x="247.90" y="500.90" font-size="10.0" text-anchor="middle" font-weight="normal" fill="#505050" font-style="italic" >****</text>
<line x1="264.00" y1="499.00" x2="292.80" y2="499.00" stroke="#505050" stroke-width="0.95"/>
<text x="278.40" y="500.90" font-size="10.0" text-anchor="middle" font-weight="normal" fill="#505050" font-style="italic" >*</text>
<rect x="392.00" y="552.27" width="18.40" height="88.73" fill="url(#ptr)" stroke="#ff1a1a" stroke-width="0.9"/>
<rect x="420.00" y="596.83" width="18.40" height="44.17" fill="url(#ptg)" stroke="#00c400" stroke-width="0.9"/>
<path d="M355.00 506.70 V641.00 H449.00" fill="none" stroke="#000" stroke-width="1.25" stroke-linejoin="miter"/>
<line x1="349.40" y1="641.00" x2="355.00" y2="641.00" stroke="#000" stroke-width="1.1"/>
<text x="347.70" y="643.75" font-size="7.7" text-anchor="end" font-weight="bold" fill="#000"  >0</text>
<line x1="349.40" y1="596.43" x2="355.00" y2="596.43" stroke="#000" stroke-width="1.1"/>
<text x="347.70" y="599.18" font-size="7.7" text-anchor="end" font-weight="bold" fill="#000"  >1</text>
<line x1="349.40" y1="551.87" x2="355.00" y2="551.87" stroke="#000" stroke-width="1.1"/>
<text x="347.70" y="554.62" font-size="7.7" text-anchor="end" font-weight="bold" fill="#000"  >2</text>
<line x1="349.40" y1="507.30" x2="355.00" y2="507.30" stroke="#000" stroke-width="1.1"/>
<text x="347.70" y="510.05" font-size="7.7" text-anchor="end" font-weight="bold" fill="#000"  >3</text>
<line x1="373.10" y1="641.00" x2="373.10" y2="646.90" stroke="#000" stroke-width="1.1"/>
<text transform="translate(377.75,655.90) rotate(-45)" font-size="9.6" text-anchor="end" fill="#111">WT</text>
<line x1="401.20" y1="641.00" x2="401.20" y2="646.90" stroke="#000" stroke-width="1.1"/>
<text transform="translate(405.70,654.70) rotate(-45)" font-size="9.6" text-anchor="end" fill="#111">Vehicle</text>
<line x1="429.20" y1="641.00" x2="429.20" y2="646.90" stroke="#000" stroke-width="1.1"/>
<text transform="translate(435.30,651.40) rotate(-45)" font-size="9.6" text-anchor="end" fill="#111">High dose</text>
<circle cx="371.90" cy="596.43" r="1.5" fill="#0a0aff"/>
<circle cx="374.30" cy="596.43" r="1.5" fill="#0a0aff"/>
<circle cx="365.20" cy="641.00" r="1.5" fill="#0a0aff"/>
<circle cx="367.85" cy="641.00" r="1.5" fill="#0a0aff"/>
<circle cx="370.50" cy="641.00" r="1.5" fill="#0a0aff"/>
<circle cx="373.15" cy="641.00" r="1.5" fill="#0a0aff"/>
<circle cx="375.80" cy="641.00" r="1.5" fill="#0a0aff"/>
<circle cx="378.45" cy="641.00" r="1.5" fill="#0a0aff"/>
<circle cx="381.10" cy="641.00" r="1.5" fill="#0a0aff"/>
<circle cx="401.00" cy="507.30" r="1.5" fill="#ff1a1a"/>
<circle cx="393.55" cy="551.87" r="1.5" fill="#ff1a1a"/>
<circle cx="396.10" cy="551.87" r="1.5" fill="#ff1a1a"/>
<circle cx="398.65" cy="551.87" r="1.5" fill="#ff1a1a"/>
<circle cx="401.20" cy="551.87" r="1.5" fill="#ff1a1a"/>
<circle cx="403.75" cy="551.87" r="1.5" fill="#ff1a1a"/>
<circle cx="406.30" cy="551.87" r="1.5" fill="#ff1a1a"/>
<circle cx="408.85" cy="551.87" r="1.5" fill="#ff1a1a"/>
<circle cx="398.70" cy="596.43" r="1.5" fill="#ff1a1a"/>
<circle cx="401.15" cy="596.43" r="1.5" fill="#ff1a1a"/>
<circle cx="403.60" cy="596.43" r="1.5" fill="#ff1a1a"/>
<circle cx="429.20" cy="551.87" r="1.5" fill="#00c400"/>
<circle cx="421.60" cy="596.43" r="1.5" fill="#00c400"/>
<circle cx="426.63" cy="596.43" r="1.5" fill="#00c400"/>
<circle cx="431.66" cy="596.43" r="1.5" fill="#00c400"/>
<circle cx="436.69" cy="596.43" r="1.5" fill="#00c400"/>
<text x="400.80" y="483.30" font-size="8.3" text-anchor="middle" font-weight="normal" fill="#111"  >5 months post-treatment</text>
<line x1="369.60" y1="491.80" x2="431.60" y2="491.80" stroke="#505050" stroke-width="0.95"/>
<text x="400.60" y="493.70" font-size="10.0" text-anchor="middle" font-weight="normal" fill="#505050" font-style="italic" >****</text>
<line x1="369.60" y1="500.00" x2="398.80" y2="500.00" stroke="#505050" stroke-width="0.95"/>
<text x="385.60" y="501.90" font-size="10.0" text-anchor="middle" font-weight="normal" fill="#505050" font-style="italic" >****</text>
<line x1="402.30" y1="500.00" x2="431.00" y2="500.00" stroke="#505050" stroke-width="0.95"/>
<text x="416.65" y="501.90" font-size="10.0" text-anchor="middle" font-weight="normal" fill="#505050" font-style="italic" >*</text>
<text x="502.20" y="469.40" font-size="20" text-anchor="start" font-weight="normal" fill="#1775a8"  stroke="#1775a8" stroke-width="0.25">D</text>
<rect x="536.4" y="437.1" width="147.20" height="23.60" fill="#eed9fd"/>
<path d="M609.95 460.2 V468.40 H606.80 L613.00 474.4 L619.20 468.40 H616.05 V460.2 Z" fill="#eed9fd"/>
<text x="610.20" y="447.60" font-size="8.12" text-anchor="middle" font-weight="bold" fill="#000"  >Hindlimb clasping defect correction</text>
<text x="610.50" y="456.30" font-size="8.12" text-anchor="middle" font-weight="bold" fill="#000"  >MPS VII Juvenile (P21)</text>
<path d="M506.5 511.1 H530.8 L531.2 625.6 L530.2 625.6 Z" fill="url(#gSev)"/>
<text x="521.30" y="500.30" font-size="6.0" text-anchor="middle" font-weight="normal" fill="#2f7299"  >More</text>
<text x="521.30" y="506.60" font-size="6.0" text-anchor="middle" font-weight="normal" fill="#2f7299"  >severe</text>
<text x="526.20" y="637.40" font-size="6.0" text-anchor="middle" font-weight="normal" fill="#2f7299"  >Less</text>
<text x="526.70" y="643.70" font-size="6.0" text-anchor="middle" font-weight="normal" fill="#2f7299"  >severe</text>
<text transform="translate(502.70,572.7) rotate(-90)" font-size="5.95" text-anchor="middle" fill="#222">Hindlimb Clasping</text>
<text transform="translate(509.80,572.7) rotate(-90)" font-size="5.95" text-anchor="middle" fill="#222">(severity score)</text>
<rect x="599.75" y="550.77" width="18.90" height="89.53" fill="url(#ptr)" stroke="#ff1a1a" stroke-width="0.9"/>
<rect x="629.45" y="618.80" width="18.90" height="21.50" fill="url(#ptg)" stroke="#00c400" stroke-width="0.9"/>
<path d="M559.70 504.80 V640.30 H659.40" fill="none" stroke="#000" stroke-width="1.25" stroke-linejoin="miter"/>
<line x1="554.10" y1="640.30" x2="559.70" y2="640.30" stroke="#000" stroke-width="1.1"/>
<text x="552.40" y="643.05" font-size="7.7" text-anchor="end" font-weight="bold" fill="#000"  >0</text>
<line x1="554.10" y1="595.33" x2="559.70" y2="595.33" stroke="#000" stroke-width="1.1"/>
<text x="552.40" y="598.08" font-size="7.7" text-anchor="end" font-weight="bold" fill="#000"  >1</text>
<line x1="554.10" y1="550.37" x2="559.70" y2="550.37" stroke="#000" stroke-width="1.1"/>
<text x="552.40" y="553.12" font-size="7.7" text-anchor="end" font-weight="bold" fill="#000"  >2</text>
<line x1="554.10" y1="505.40" x2="559.70" y2="505.40" stroke="#000" stroke-width="1.1"/>
<text x="552.40" y="508.15" font-size="7.7" text-anchor="end" font-weight="bold" fill="#000"  >3</text>
<line x1="579.40" y1="640.30" x2="579.40" y2="646.20" stroke="#000" stroke-width="1.1"/>
<text transform="translate(584.90,654.90) rotate(-45)" font-size="9.6" text-anchor="end" fill="#111">WT</text>
<line x1="609.20" y1="640.30" x2="609.20" y2="646.20" stroke="#000" stroke-width="1.1"/>
<text transform="translate(613.35,653.70) rotate(-45)" font-size="9.6" text-anchor="end" fill="#111">Vehicle</text>
<line x1="638.90" y1="640.30" x2="638.90" y2="646.20" stroke="#000" stroke-width="1.1"/>
<text transform="translate(642.10,650.70) rotate(-45)" font-size="9.6" text-anchor="end" fill="#111">High dose</text>
<circle cx="577.70" cy="595.33" r="1.5" fill="#0a0aff"/>
<circle cx="581.10" cy="595.33" r="1.5" fill="#0a0aff"/>
<circle cx="570.80" cy="640.30" r="1.5" fill="#0a0aff"/>
<circle cx="574.22" cy="640.30" r="1.5" fill="#0a0aff"/>
<circle cx="577.64" cy="640.30" r="1.5" fill="#0a0aff"/>
<circle cx="581.06" cy="640.30" r="1.5" fill="#0a0aff"/>
<circle cx="584.48" cy="640.30" r="1.5" fill="#0a0aff"/>
<circle cx="587.90" cy="640.30" r="1.5" fill="#0a0aff"/>
<circle cx="601.50" cy="550.37" r="1.5" fill="#ff1a1a"/>
<circle cx="606.70" cy="550.37" r="1.5" fill="#ff1a1a"/>
<circle cx="611.90" cy="550.37" r="1.5" fill="#ff1a1a"/>
<circle cx="617.10" cy="550.37" r="1.5" fill="#ff1a1a"/>
<circle cx="609.00" cy="595.33" r="1.5" fill="#ff1a1a"/>
<circle cx="609.00" cy="640.30" r="1.5" fill="#ff1a1a"/>
<circle cx="630.30" cy="595.33" r="1.5" fill="#00c400"/>
<circle cx="636.00" cy="595.33" r="1.5" fill="#00c400"/>
<circle cx="641.70" cy="595.33" r="1.5" fill="#00c400"/>
<circle cx="647.40" cy="595.33" r="1.5" fill="#00c400"/>
<circle cx="630.30" cy="640.30" r="1.5" fill="#00c400"/>
<circle cx="636.00" cy="640.30" r="1.5" fill="#00c400"/>
<circle cx="641.70" cy="640.30" r="1.5" fill="#00c400"/>
<circle cx="647.40" cy="640.30" r="1.5" fill="#00c400"/>
<text x="613.70" y="483.00" font-size="8.3" text-anchor="middle" font-weight="normal" fill="#111"  >1 month post-treatment</text>
<line x1="579.10" y1="497.70" x2="607.30" y2="497.70" stroke="#505050" stroke-width="0.95"/>
<text x="593.20" y="499.60" font-size="10.0" text-anchor="middle" font-weight="normal" fill="#505050"  >**</text>
<line x1="611.00" y1="497.70" x2="639.40" y2="497.70" stroke="#505050" stroke-width="0.95"/>
<text x="625.20" y="499.60" font-size="10.0" text-anchor="middle" font-weight="normal" fill="#505050"  >**</text>
</svg></body></html>
